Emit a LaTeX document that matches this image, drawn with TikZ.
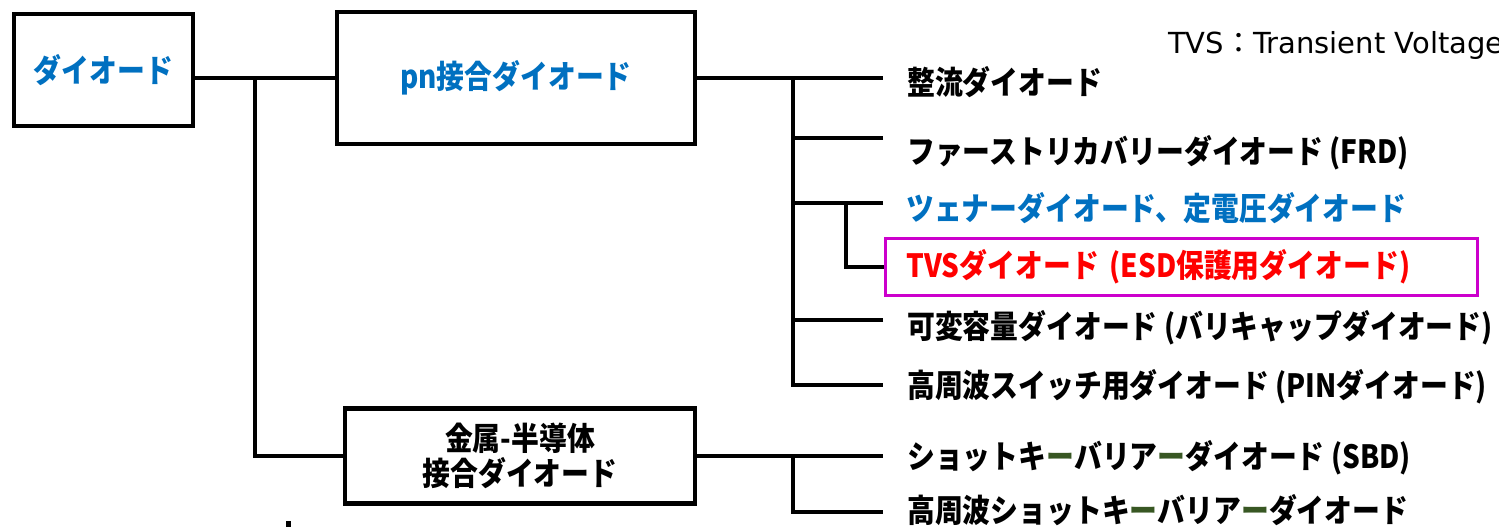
\documentclass[tikz,border=0pt]{standalone}
\usepackage{fontspec}
\newfontfamily\jp{Noto Sans CJK JP}[FakeStretch=0.87]
\newfontfamily\jpnote{Noto Sans CJK JP}
\newfontfamily\dvnote{DejaVu Sans}
\definecolor{dblue}{RGB}{0,112,192}
\definecolor{tvsred}{RGB}{255,0,0}
\definecolor{mag}{RGB}{204,0,204}
\definecolor{dgreen}{RGB}{56,87,35}
\begin{document}
\begin{tikzpicture}[x=1pt,y=-1pt,
  jpfont/.style={font={\jp\bfseries\fontsize{32}{36}\selectfont}},
  box/.style={draw=black,line width=4.5pt,jpfont,align=center,inner sep=0pt},
  lab/.style={anchor=west,inner sep=0pt,jpfont},
  conn/.style={draw=black,line width=4pt}]
\useasboundingbox (0,0) rectangle (1499,527);
% boxes
\node[box,minimum width=179,minimum height=112,text=dblue] (diode) at (103.5,70) {ダイオード};
\node[box,minimum width=358,minimum height=132,text=dblue] (pn) at (516,78) {pn接合ダイオード};
\node[box,minimum width=350,minimum height=95] (kinzoku) at (520,456) {金属-半導体\\[-1pt]接合ダイオード};
% labels
\node[lab] (seiryu) at (907,82) {整流ダイオード};
\node[lab] (frd) at (907,153) {ファーストリカバリーダイオード (FRD)};
\node[lab,text=dblue] (zener) at (906,208) {ツェナーダイオード、定電圧ダイオード};
\node[draw=mag,line width=3pt,anchor=west,minimum height=57,inner xsep=21pt,inner ysep=0pt,
      text width=550,align=left,jpfont,text=tvsred] (tvs) at (884,266.5) {TVSダイオード (ESD保護用ダイオード)};
\node[lab] (kahen) at (907,328) {可変容量ダイオード (バリキャップダイオード)};
\node[lab] (pin) at (907,387) {高周波スイッチ用ダイオード (PINダイオード)};
\node[lab] (sbd) at (907,458) {ショットキ\textcolor{dgreen}{ー}バリア\textcolor{dgreen}{ー}ダイオード (SBD)};
\node[lab] (hfsbd) at (907,510) {高周波ショットキ\textcolor{dgreen}{ー}バリア\textcolor{dgreen}{ー}ダイオード};
% note (cut off at the right edge, as in the reference)
\begin{scope}
\clip (0,0) rectangle (1499,527);
\node[anchor=west,inner sep=0pt,font={\dvnote\fontsize{29}{36}\selectfont}] (note) at (1168,46)
  {TVS{\jpnote ：}Transient Voltage Suppressor};
\end{scope}
% connectors
\coordinate (j) at (255,0);
\coordinate (tr) at (793,0);
\draw[conn] (diode.east |- pn.west) -- (pn.west);
\draw[conn] (j |- pn.west) |- (kinzoku.west);
\draw[conn] (pn.east) -- ++(186,0);
\draw[conn] (tr |- pn.east) |- ([shift={(-24,-2)}]pin.west);
\draw[conn] ([shift={(-24,-15)}]frd.west) -- ++(-90,0);
\draw[conn] ([shift={(-23,-5)}]zener.west) -- ++(-90,0);
\draw[conn] ([shift={(-60,-5)}]zener.west) |- (tvs.west);
\draw[conn] ([shift={(-24,-8)}]kahen.west) -- ++(-90,0);
\draw[conn] (kinzoku.east) -- ++(186,0);
\draw[conn] (tr |- kinzoku.east) |- ([shift={(-24,2)}]hfsbd.west);
% small mark
\fill (286,521) rectangle (291,527);
\end{tikzpicture}
\end{document}
